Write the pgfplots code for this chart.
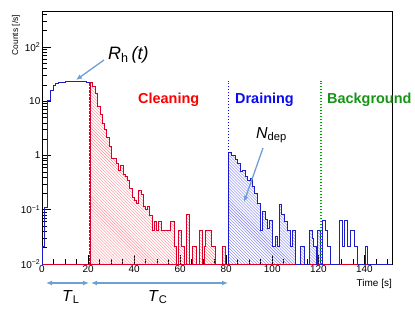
\documentclass[border=0pt]{standalone}
\usepackage{pgfplots}
\pgfplotsset{compat=1.18}
\usepackage{fontspec}
\setmainfont{Liberation Sans}
\usetikzlibrary{patterns,arrows.meta}
\definecolor{redline}{RGB}{220,0,40}
\definecolor{redhatch}{RGB}{255,140,150}
\definecolor{blueline}{RGB}{30,30,200}
\definecolor{bluehatch}{RGB}{120,120,235}
\definecolor{bluetext}{RGB}{10,10,245}
\definecolor{greentext}{RGB}{20,150,20}
\definecolor{greenline}{RGB}{0,170,0}
\definecolor{arrowc}{RGB}{110,160,210}
\begin{document}
\begin{tikzpicture}[x=1bp,y=1bp]
\useasboundingbox (-42,-48) rectangle (373,264);
\begin{axis}[at={(0,0)},anchor=south west,scale only axis,width=350bp,height=253bp,
  xmin=0,xmax=152,ymode=log,ymin=0.01,ymax=460,
  axis line style={black,line width=0.6bp},
  tick align=inside,xtick pos=bottom,ytick pos=left,
  xtick={0,20,...,140},minor xtick={5,10,...,150},
  ytick={0.01,0.1,1,10,100},
  yticklabels={10\textsuperscript{−2},10\textsuperscript{−1},1,10,10\textsuperscript{2}},
  minor ytick={0.02,0.03,0.04,0.05,0.06,0.07,0.08,0.09,0.2,0.3,0.4,0.5,0.6,0.7,0.8,0.9,2,3,4,5,6,7,8,9,20,30,40,50,60,70,80,90,200,300,400},
  major tick length=9bp,minor tick length=5bp,
  tick style={black,line width=0.6bp},
  /pgf/number format/assume math mode=true,
  ticklabel style={font=\fontsize{10}{12}\selectfont},
  xticklabel style={inner sep=1.5bp},
  yticklabel style={inner sep=1.5bp},
  const plot]
% hatched areas
\addplot[draw=none,pattern=north west lines,pattern color=redhatch] coordinates {
(21,0.01)(21,22)(22,18.5)(23.05,14)(24.2,7.9)(25.2,5.6)(26.1,3.9)(27.1,3.0)(28.1,2.1)(29.3,1.45)(30.3,0.89)(32.2,0.72)(33.2,0.54)(34.2,0.65)(35.2,0.44)(36.2,0.41)(37.2,0.35)(38.2,0.25)(39.1,0.17)(40.1,0.15)(41.1,0.13)(42,0.23)(43,0.19)(44,0.115)(44.9,0.10)(45.9,0.115)(46.9,0.08)(47.8,0.042)(48.8,0.062)(49.8,0.042)(50.7,0.062)(51.7,0.042)(56,0.062)(57.5,0.021)(58.5,0.01)(59.2,0.042)(60.4,0.021)(61.8,0.01)(62.8,0.083)(64,0.01)(65.4,0.021)(67.2,0.01)(68.6,0.042)(69.5,0.01)(70.5,0.021)(71.2,0.042)(73.4,0.021)(75.5,0.01)(78.4,0.021)(79.6,0.01)(81,0.01)};
\addplot[draw=none,pattern=north west lines,pattern color=bluehatch] coordinates {
(81,0.01)(81,1.12)(82.4,1.02)(83.9,0.85)(84.9,0.72)(86,0.50)(87.2,0.52)(88.2,0.41)(89.2,0.35)(90.4,0.38)(91.5,0.27)(92.5,0.20)(93.5,0.13)(94.7,0.042)(95.9,0.092)(96.9,0.065)(97.9,0.045)(99,0.063)(100.2,0.021)(101.2,0.032)(102.4,0.021)(103.3,0.125)(104.2,0.083)(105.4,0.062)(106.5,0.042)(108,0.021)(109,0.042)(110,0.01)(112.2,0.021)(114.1,0.01)(116.2,0.042)(117.4,0.03)(118.1,0.021)(119.1,0.01)(119.8,0.042)(121,0.01)};
% bottom (empty bins)
\addplot[redline,line width=1bp] coordinates {(0,0.01)(152,0.01)};
% filling
\addplot[blueline,line width=1bp] coordinates {
(0,0.01)(0.4,0.021)(1.3,0.11)(2.5,10.5)(3.9,16)(4.9,19.5)(5.9,21)(7,22.5)(10,23)(13,23.5)(17,23)(19.5,22)(20.5,21)(21,0.01)};
% cleaning
\addplot[redline,line width=1bp] coordinates {
(21,0.01)(21,22)(22,18.5)(23.05,14)(24.2,7.9)(25.2,5.6)(26.1,3.9)(27.1,3.0)(28.1,2.1)(29.3,1.45)(30.3,0.89)(32.2,0.72)(33.2,0.54)(34.2,0.65)(35.2,0.44)(36.2,0.41)(37.2,0.35)(38.2,0.25)(39.1,0.17)(40.1,0.15)(41.1,0.13)(42,0.23)(43,0.19)(44,0.115)(44.9,0.10)(45.9,0.115)(46.9,0.08)(47.8,0.042)(48.8,0.062)(49.8,0.042)(50.7,0.062)(51.7,0.042)(56,0.062)(57.5,0.021)(58.5,0.01)(59.2,0.042)(60.4,0.021)(61.8,0.01)(62.8,0.083)(64,0.01)(65.4,0.021)(67.2,0.01)(68.6,0.042)(69.5,0.01)(70.5,0.021)(71.2,0.042)(73.4,0.021)(75.5,0.01)(78.4,0.021)(79.6,0.01)(81,0.01)};
% draining + background
\addplot[blueline,line width=1bp] coordinates {
(81,0.01)(81,1.12)(82.4,1.02)(83.9,0.85)(84.9,0.72)(86,0.50)(87.2,0.52)(88.2,0.41)(89.2,0.35)(90.4,0.38)(91.5,0.27)(92.5,0.20)(93.5,0.13)(94.7,0.042)(95.9,0.092)(96.9,0.065)(97.9,0.045)(99,0.063)(100.2,0.021)(101.2,0.032)(102.4,0.021)(103.3,0.125)(104.2,0.083)(105.4,0.062)(106.5,0.042)(108,0.021)(109,0.042)(110,0.01)(112.2,0.021)(114.1,0.01)(116.2,0.042)(117.4,0.03)(118.1,0.021)(119.1,0.01)(119.8,0.042)(121,0.01)(121.6,0.063)(123,0.042)(124.2,0.021)(125.4,0.01)(129.3,0.063)(130.3,0.021)(131.4,0.063)(132.6,0.021)(134,0.042)(135.5,0.021)(137.2,0.01)(140.4,0.021)(141.5,0.01)(152,0.01)};
% phase boundaries
\addplot[redline,line width=1.8bp,dash pattern=on 2.2bp off 1.3bp] coordinates {(21,0.01)(21,22)};
\addplot[bluetext,line width=1.8bp,dash pattern=on 1.5bp off 1.5bp] coordinates {(81,0.01)(81,24)};
\addplot[greenline,line width=1.8bp,dash pattern=on 1.5bp off 1.5bp] coordinates {(121,0.01)(121,24)};
\end{axis}
% labels
\node[rotate=90,font=\fontsize{8.5}{10}\selectfont] at (-26,229) {Counts [/s]};
\node[anchor=base east,font=\fontsize{10}{12}\selectfont,inner sep=0] at (350,-22) {Time [s]};
\node[anchor=base west,font=\fontsize{14.5}{17}\selectfont\bfseries,text=red,inner sep=0] at (96,161) {Cleaning};
\node[anchor=base west,font=\fontsize{14.5}{17}\selectfont\bfseries,text=bluetext,inner sep=0] at (193,161) {Draining};
\node[anchor=base west,font=\fontsize{14.5}{17}\selectfont\bfseries,text=greentext,inner sep=0] at (285,161) {Background};
\node[anchor=base west,font=\fontsize{18}{21}\selectfont,inner sep=0] at (66,205) {\textit{R}\textsubscript{h}\,\textit{(t)}};
\node[anchor=base west,font=\fontsize{16}{19}\selectfont,inner sep=0] at (214,126) {\textit{N}\textsubscript{dep}};
\draw[arrowc,line width=1.3bp,-{Latex[length=6bp,width=5bp]}] (62,204) -- (34,184);
\draw[arrowc,line width=1.3bp,-{Latex[length=6bp,width=5bp]}] (221,116) -- (202,62);
\draw[arrowc,line width=1.5bp,{Latex[length=6bp,width=5bp]}-{Latex[length=6bp,width=5bp]}] (4,-19) -- (47,-19);
\draw[arrowc,line width=1.5bp,{Latex[length=6bp,width=5bp]}-{Latex[length=6bp,width=5bp]}] (49,-19) -- (186,-19);
\node[anchor=base west,font=\fontsize{16}{19}\selectfont,inner sep=0] at (20,-37) {\textit{T}\textsubscript{L}};
\node[anchor=base west,font=\fontsize{16}{19}\selectfont,inner sep=0] at (106,-37) {\textit{T}\textsubscript{C}};
\end{tikzpicture}
\end{document}
